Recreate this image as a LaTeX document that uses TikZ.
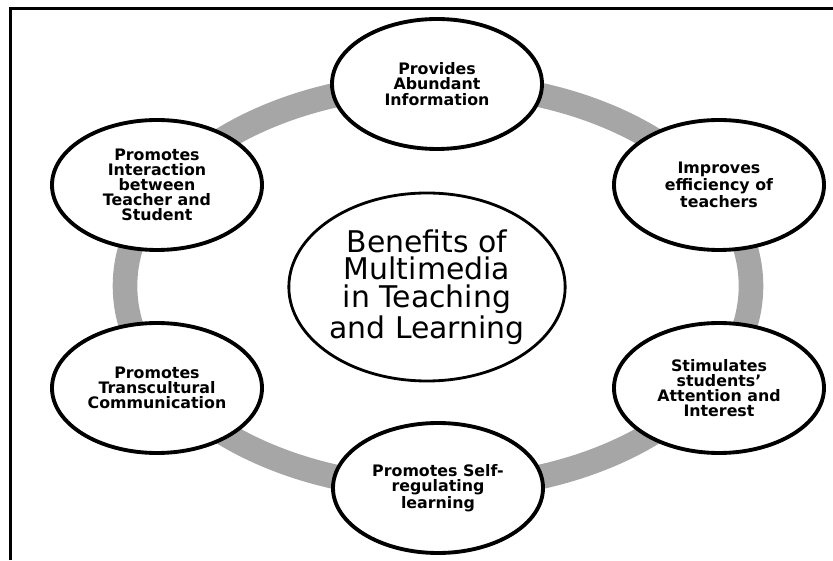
\documentclass[tikz,border=0pt]{standalone}
\usepackage{fontspec}
\setmainfont{DejaVu Sans}
\usepackage{tikz}
\usetikzlibrary{shapes.geometric}
\tikzset{
    hub/.style = {ellipse, minimum width=5.5cm, minimum height=3.76cm, inner sep=0pt, align=center, draw=black, line width=1.6pt, fill=white, font=\fontsize{17}{15.8}\selectfont},
    benefit/.style = {ellipse, minimum width=4.2cm, minimum height=2.6cm, inner sep=0pt, align=center, draw=black, line width=2.2pt, fill=white, font=\bfseries\fontsize{9}{8.6}\selectfont},
    ring/.style = {line width=14pt, draw=black!35},
    frame/.style = {line width=1.7pt, draw=black}
}

\begin{document}
\begin{tikzpicture}
\useasboundingbox (0,0) rectangle (16.66,11.2);
\draw [frame] (0.21,0) -- (0.21,11.02) -- (16.66,11.02);

\coordinate (mid) at (8.76,5.48);
\draw [ring] (mid) ellipse [x radius=6.26cm, y radius=4.04cm];

\node (hub) [hub] at (8.54,5.46) {Benefits of\\Multimedia\\in Teaching\\and Learning};
\node (info) [benefit] at (8.74,9.52) {Provides\\Abundant\\Information};
\node (teachers) [benefit] at (14.38,7.50) {Improves\\efficiency of\\teachers};
\node (attention) [benefit] at (14.38,3.44) {Stimulates\\students'\\Attention and\\Interest};
\node (selfreg) [benefit] at (8.76,1.44) {Promotes Self-\\regulating\\learning};
\node (transcult) [benefit] at (3.14,3.44) {Promotes\\Transcultural\\Communication};
\node (interact) [benefit] at (3.14,7.50) {Promotes\\Interaction\\between\\Teacher and\\Student};
\end{tikzpicture}
\end{document}
